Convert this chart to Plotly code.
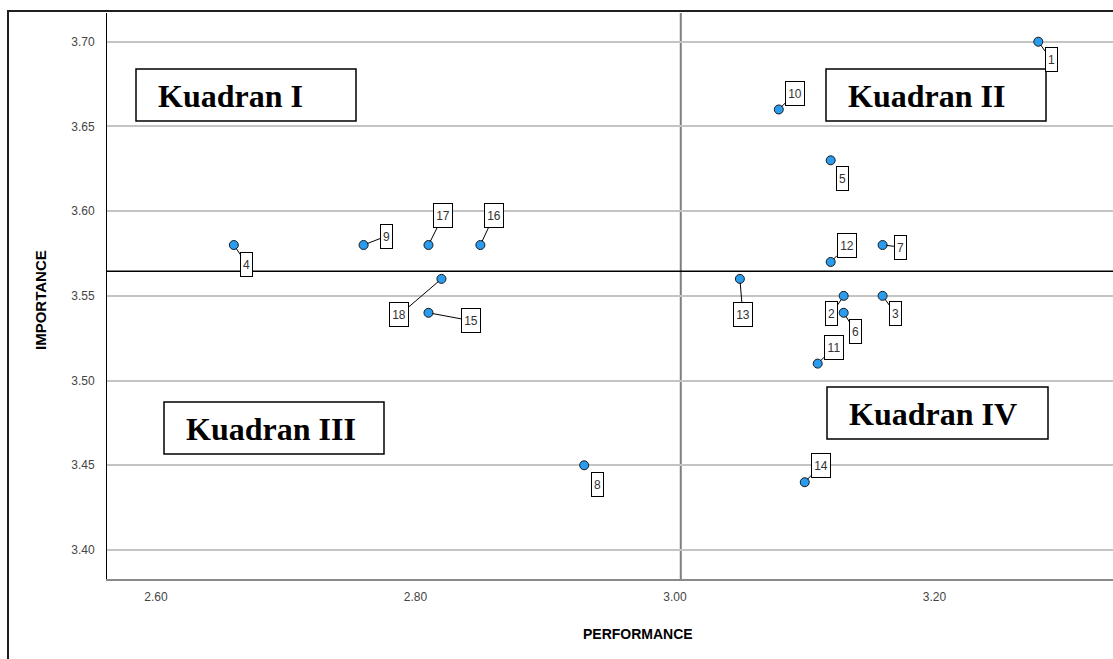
import plotly.graph_objects as go

# ---------------- data ----------------
item_ids = [str(i) for i in range(1, 19)]
performance = [3.28, 3.13, 3.16, 2.66, 3.12, 3.13, 3.16, 2.93, 2.76,
               3.08, 3.11, 3.12, 3.05, 3.10, 2.81, 2.85, 2.81, 2.82]
importance = [3.70, 3.55, 3.55, 3.58, 3.63, 3.54, 3.58, 3.45, 3.58,
              3.66, 3.51, 3.57, 3.56, 3.44, 3.54, 3.58, 3.58, 3.56]
x_ticks = [2.60, 2.80, 3.00, 3.20]
y_ticks = [3.40, 3.45, 3.50, 3.55, 3.60, 3.65, 3.70]
quadrant_names = ["Kuadran I", "Kuadran II", "Kuadran III", "Kuadran IV"]
x_title = "PERFORMANCE"
y_title = "IMPORTANCE"

# ---------------- styling / layout ----------------
W, H = 1113, 659
ML, MR, MT, MB = 107, 0, 13, 80
PW, PH = W - ML - MR, H - MT - MB

def px_x(px):
    return (px - ML) / PW

def px_y(py):
    return (H - MB - py) / PH

# label box offsets (pixels) relative to each point
label_offsets = [(13, 18), (-12, 18), (13, 18), (13, 19), (12, 18), (12, 19),
                 (18, 2), (13, 19), (23, -9), (16, -16), (16, -16), (16, -16),
                 (3, 36), (16, -17), (43, 8), (14, -30), (15, -30), (-42, 36)]

# quadrant boxes in pixel coords (x0, y0, x1, y1)
quad_boxes = [(136, 69, 356, 121), (826, 69, 1046, 121),
              (164, 402, 384, 454), (827, 387, 1048, 439)]

mean_perf = sum(performance) / len(performance)
mean_imp = sum(importance) / len(importance)

x0_px, x_scale = 156, 1297.5
y0_px, y_scale = 41.7, 1694.3
x_range = [2.60 - (x0_px - ML) / x_scale, 2.60 + (W - MR - x0_px) / x_scale]
y_range = [3.70 - (H - MB - y0_px) / y_scale, 3.70 + (y0_px - MT) / y_scale]

fig = go.Figure()
fig.add_trace(go.Scatter(
    x=performance, y=importance, mode="markers",
    marker=dict(size=9, color="#2a9cf0", line=dict(color="#1a1a1a", width=1)),
    hoverinfo="skip", showlegend=False, cliponaxis=False,
))

shapes = [
    dict(type="line", xref="x", yref="y", x0=mean_perf, x1=mean_perf,
         y0=y_range[0], y1=y_range[1], line=dict(color="#7f7f7f", width=2), layer="below"),
    dict(type="line", xref="x", yref="y", x0=x_range[0], x1=x_range[1],
         y0=mean_imp, y1=mean_imp, line=dict(color="#000000", width=1.5), layer="below"),
]

annotations = []
for pid, xv, yv, (dx, dy) in zip(item_ids, performance, importance, label_offsets):
    annotations.append(dict(
        x=xv, y=yv, xref="x", yref="y", text=pid,
        showarrow=True, arrowhead=0, arrowwidth=1, arrowcolor="#000000",
        ax=dx, ay=dy, standoff=4,
        bordercolor="#000000", borderwidth=1, borderpad=1, bgcolor="#ffffff",
        width=9 if len(pid) == 1 else 16, height=21,
        font=dict(family="Liberation Sans, Arial, sans-serif", size=12, color="#333333"),
    ))

for name, (x0, y0, x1, y1) in zip(quadrant_names, quad_boxes):
    shapes.append(dict(type="rect", xref="paper", yref="paper",
                       x0=px_x(x0), x1=px_x(x1), y0=px_y(y1), y1=px_y(y0),
                       line=dict(color="#000000", width=1.5), fillcolor="#ffffff",
                       layer="above"))
    annotations.append(dict(
        x=px_x(x0 + 20), y=px_y((y0 + y1) / 2 + 1), xref="paper", yref="paper",
        xanchor="left", yanchor="middle", showarrow=False, text="<b>%s</b>" % name,
        font=dict(family="Liberation Serif, Times New Roman, serif", size=32, color="#000000"),
    ))

# outer frame
shapes.append(dict(type="rect", xref="paper", yref="paper",
                   x0=px_x(8), x1=px_x(1200), y0=px_y(800), y1=px_y(11),
                   line=dict(color="#231f20", width=2), fillcolor="rgba(0,0,0,0)",
                   layer="above"))

# axis titles
annotations.append(dict(
    x=px_x(638), y=px_y(634), xref="paper", yref="paper", showarrow=False,
    text="<b>%s</b>" % x_title, xanchor="center", yanchor="middle",
    font=dict(family="Liberation Sans, Arial, sans-serif", size=14, color="#000000"),
))
annotations.append(dict(
    x=px_x(40), y=px_y(300), xref="paper", yref="paper", showarrow=False,
    text="<b>%s</b>" % y_title, xanchor="center", yanchor="middle", textangle=-90,
    font=dict(family="Liberation Sans, Arial, sans-serif", size=15, color="#000000"),
))

tick_font = dict(family="Liberation Sans, Arial, sans-serif", size=12, color="#444444")

fig.update_layout(
    width=W, height=H,
    margin=dict(l=ML, r=MR, t=MT, b=MB, pad=0),
    paper_bgcolor="#ffffff", plot_bgcolor="#ffffff",
    shapes=shapes, annotations=annotations,
    xaxis=dict(range=x_range, tickvals=x_ticks, ticktext=["%.2f" % v for v in x_ticks],
               showgrid=False, zeroline=False, showline=True, linecolor="#8a8a8a",
               linewidth=2, ticks="", ticklabelstandoff=6, tickfont=tick_font),
    yaxis=dict(range=y_range, tickvals=y_ticks, ticktext=["%.2f" % v for v in y_ticks],
               showgrid=True, gridcolor="#c4c4c4", gridwidth=1.5, zeroline=False,
               showline=True, linecolor="#000000", linewidth=1, ticks="",
               ticklabelstandoff=9, tickfont=tick_font),
)

fig.write_html("out.html", config={"displayModeBar": False},
               post_script="document.body.style.margin='0';document.body.style.overflow='hidden';")
